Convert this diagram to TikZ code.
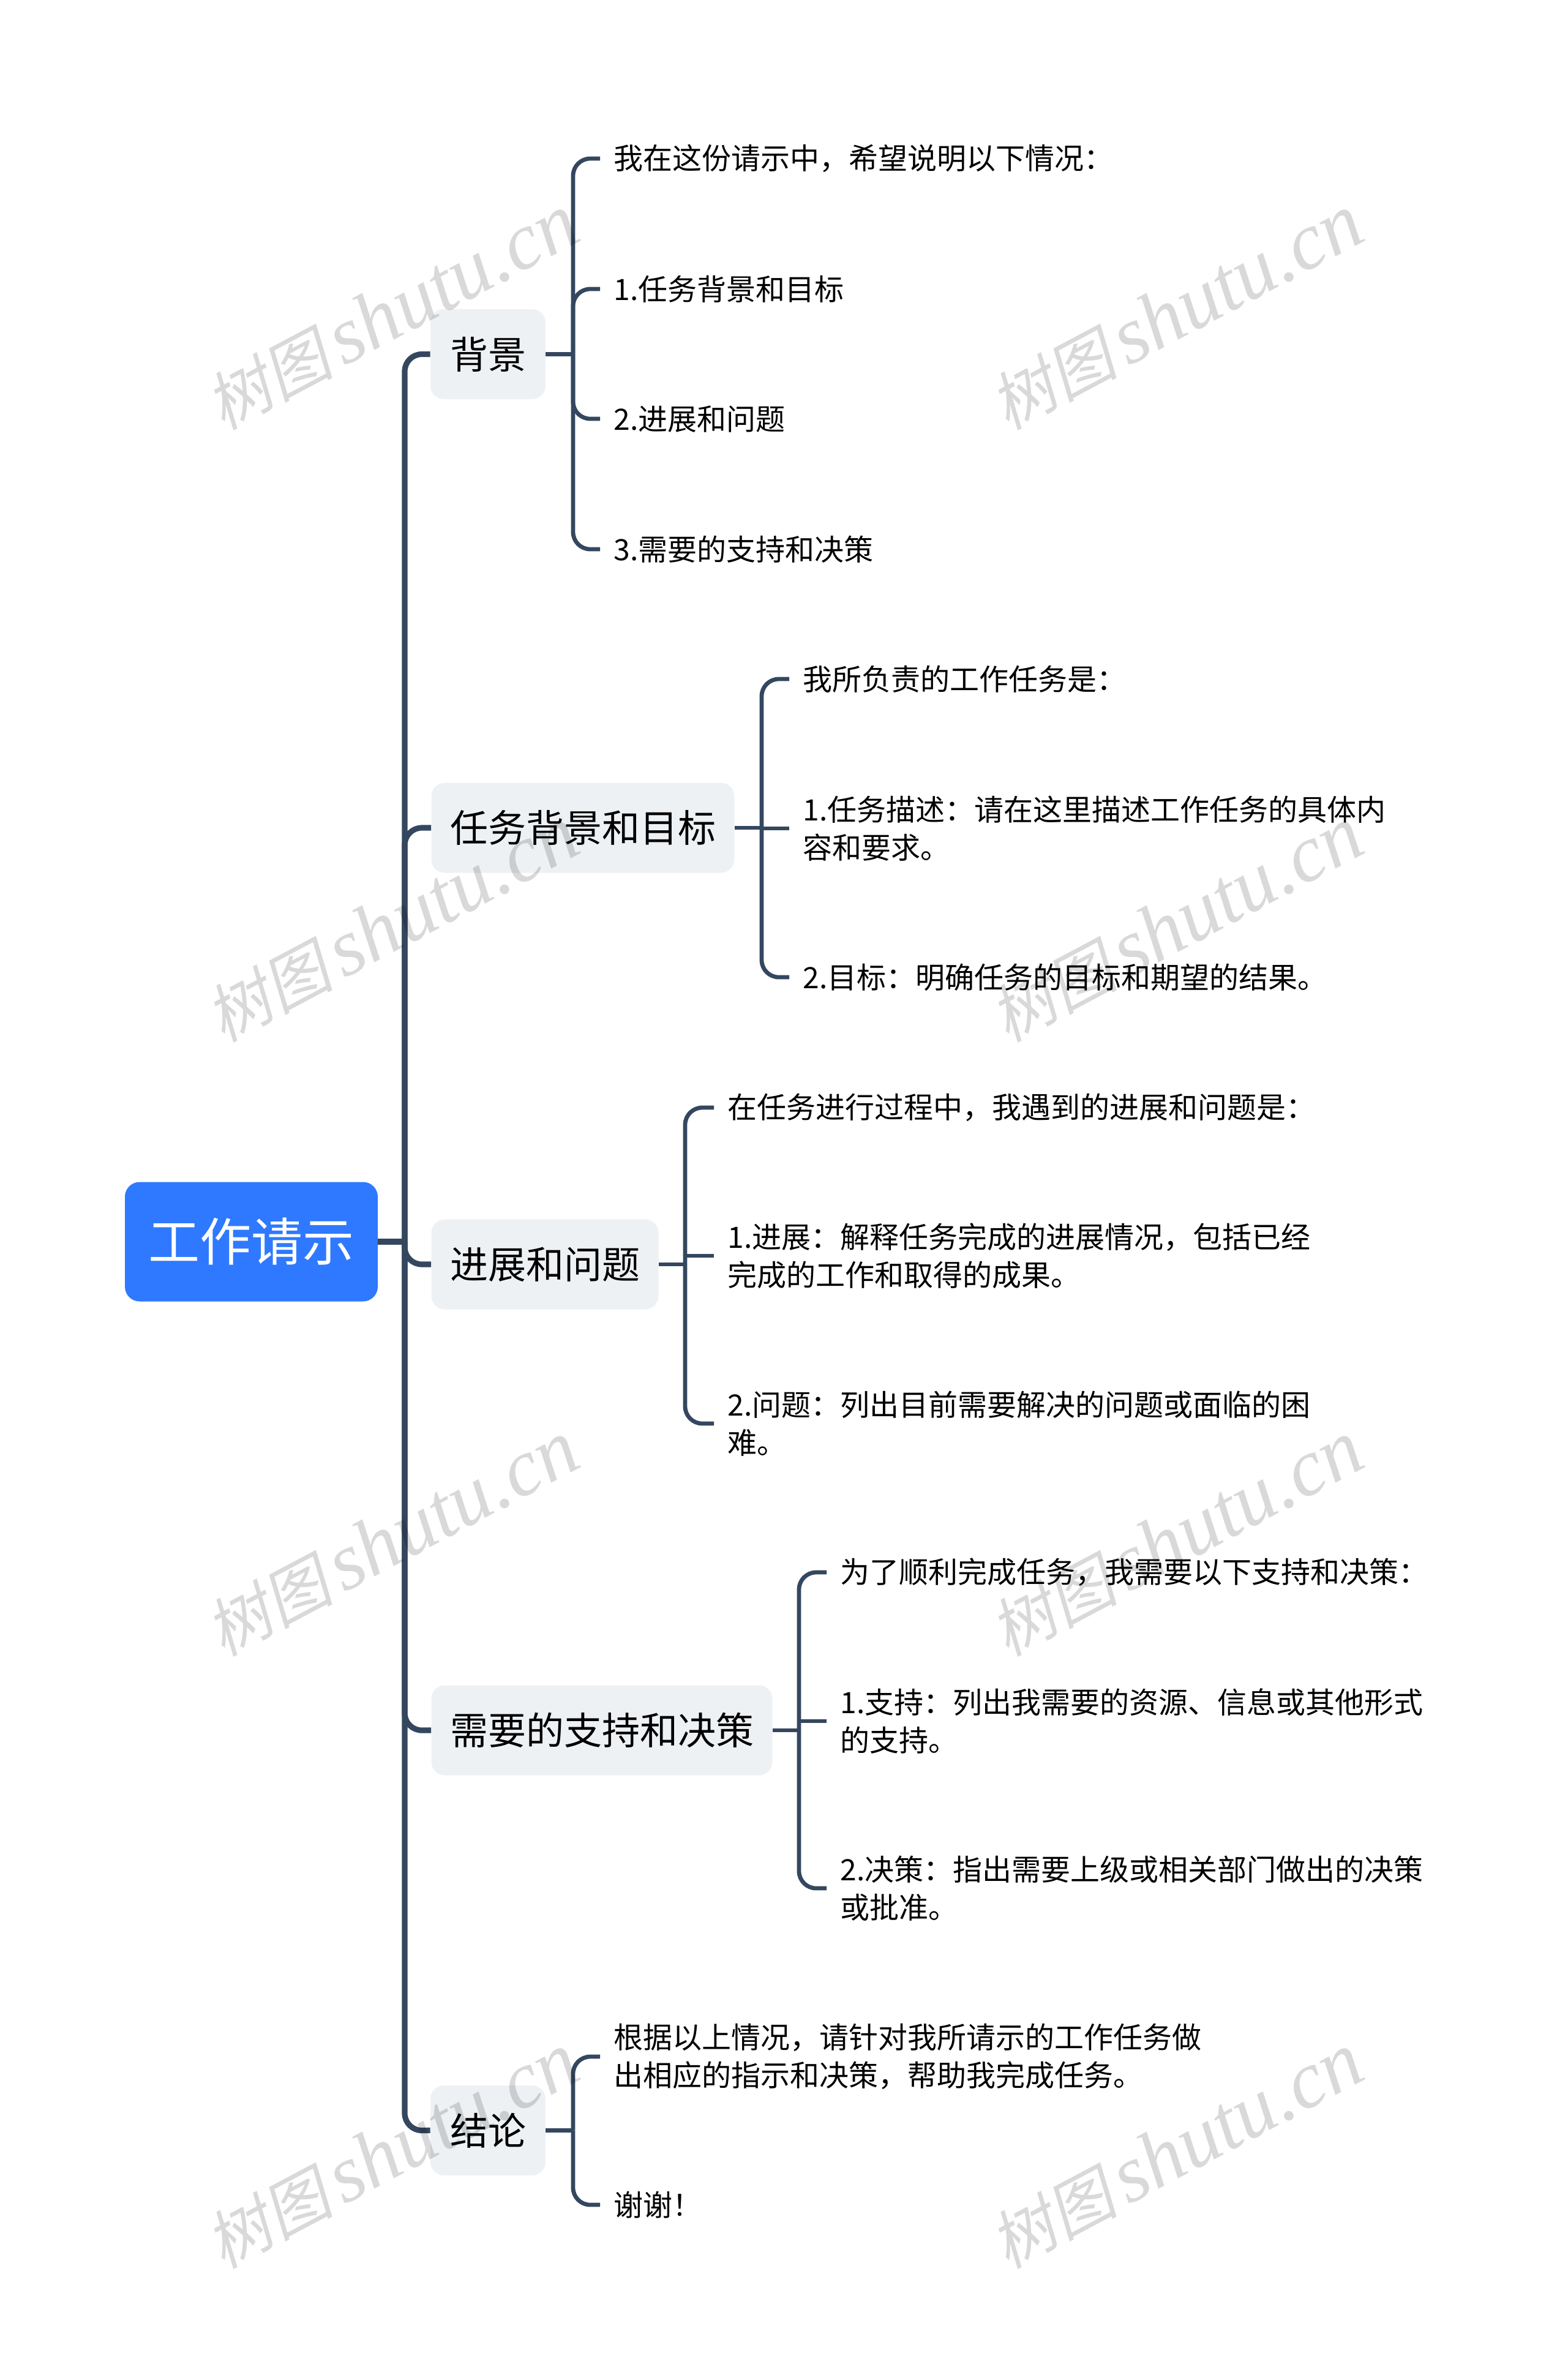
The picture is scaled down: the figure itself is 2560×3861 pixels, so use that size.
\documentclass[tikz,border=0pt]{standalone}
\usepackage{fontspec}
\setmainfont{Noto Sans CJK SC}
\newfontfamily\wmcjk[FakeSlant=0.2]{Noto Sans CJK SC}
\newfontfamily\wmlat{Liberation Serif}[ItalicFont=* Italic]
\definecolor{linecol}{HTML}{34475F}
\definecolor{rootcol}{HTML}{2E79FF}
\definecolor{boxcol}{HTML}{EEF1F4}
\tikzset{
  x=0.5pt,y=-0.5pt,
  rootbox/.style={fill=rootcol,text=white,rounded corners=12pt,font=\fontsize{42}{48}\selectfont,inner sep=0pt,minimum width=206.5pt,minimum height=97.5pt},
  branchbox/.style={fill=boxcol,text=black,rounded corners=11pt,font=\fontsize{31}{38}\selectfont,inner sep=0pt,minimum height=73.5pt},
  leaf/.style={anchor=west,align=left,inner ysep=0pt,inner xsep=11pt,font=\fontsize{24}{31}\selectfont,text=black},
  mainline/.style={draw=linecol,line width=4.6pt,rounded corners=14pt},
  subline/.style={draw=linecol,line width=3.4pt,rounded corners=14pt},
  wm/.style={rotate=28,text=black,opacity=0.15,inner sep=0pt},
}
\newcommand{\wmtext}{{\wmcjk\fontsize{52}{58}\selectfont 树图}\hspace{8pt}{\wmlat\itshape\fontsize{66}{68}\selectfont shutu.cn}}
\begin{document}
\begin{tikzpicture}
\path[fill=white,use as bounding box] (0,0) rectangle (2560,3861);

% nodes
\node[rootbox] (root) at (410.5,2028) {工作请示};
\node[branchbox,minimum width=94pt] (b1) at (797,578.5) {背景};
\node[branchbox,minimum width=247.5pt] (b2) at (952,1352) {任务背景和目标};
\node[branchbox,minimum width=185.5pt] (b3) at (890,2065) {进展和问题};
\node[branchbox,minimum width=278.5pt] (b4) at (983,2826) {需要的支持和决策};
\node[branchbox,minimum width=94pt] (b5) at (797,3479.5) {结论};

\node[leaf] (l11) at (980,259) {我在这份请示中，希望说明以下情况：};
\node[leaf] (l12) at (980,472) {1.任务背景和目标};
\node[leaf] (l13) at (980,684) {2.进展和问题};
\node[leaf] (l14) at (980,897) {3.需要的支持和决策};

\node[leaf] (l21) at (1289,1109) {我所负责的工作任务是：};
\node[leaf] (l22) at (1289,1353) {1.任务描述：请在这里描述工作任务的具体内\\容和要求。};
\node[leaf] (l23) at (1289,1596) {2.目标：明确任务的目标和期望的结果。};

\node[leaf] (l31) at (1166,1809) {在任务进行过程中，我遇到的进展和问题是：};
\node[leaf] (l32) at (1166,2051) {1.进展：解释任务完成的进展情况，包括已经\\完成的工作和取得的成果。};
\node[leaf] (l33) at (1166,2325) {2.问题：列出目前需要解决的问题或面临的困\\难。};

\node[leaf] (l41) at (1350,2568) {为了顺利完成任务，我需要以下支持和决策：};
\node[leaf] (l42) at (1350,2811) {1.支持：列出我需要的资源、信息或其他形式\\的支持。};
\node[leaf] (l43) at (1350,3084) {2.决策：指出需要上级或相关部门做出的决策\\或批准。};

\node[leaf] (l51) at (980,3359) {根据以上情况，请针对我所请示的工作任务做\\出相应的指示和决策，帮助我完成任务。};
\node[leaf] (l52) at (980,3601) {谢谢！};

% trunk junctions
\coordinate (tr) at (661,2028);
\coordinate (s1) at (936,578.5);
\coordinate (s2) at (1244,1352);
\coordinate (s3) at (1119,2065);
\coordinate (s4) at (1305,2826);
\coordinate (s5) at (936,3479.5);

% main connectors
\draw[mainline] (root.east) -- (tr);
\draw[mainline] (tr) |- (b1.west);
\draw[mainline] (tr) |- (b2.west);
\draw[mainline] (tr) |- (b3.west);
\draw[mainline] (tr) |- (b4.west);
\draw[mainline] (tr) |- (b5.west);

% sub connectors
\draw[subline] (b1.east) -- (s1);
\draw[subline] (s1) |- (l11.west);
\draw[subline] (s1) |- (l12.west);
\draw[subline] (s1) |- (l13.west);
\draw[subline] (s1) |- (l14.west);

\draw[subline] (b2.east) -- (s2);
\draw[subline] (s2) |- (l21.west);
\draw[subline] (s2 |- l22.west) -- (l22.west);
\draw[subline] (s2) |- (l23.west);

\draw[subline] (b3.east) -- (s3);
\draw[subline] (s3) |- (l31.west);
\draw[subline] (s3 |- l32.west) -- (l32.west);
\draw[subline] (s3) |- (l33.west);

\draw[subline] (b4.east) -- (s4);
\draw[subline] (s4) |- (l41.west);
\draw[subline] (s4 |- l42.west) -- (l42.west);
\draw[subline] (s4) |- (l43.west);

\draw[subline] (b5.east) -- (s5);
\draw[subline] (s5) |- (l51.west);
\draw[subline] (s5) |- (l52.west);

% watermarks
\foreach \wx in {640,1921}
  \foreach \wy in {510,1510,2513,3513}
    \node[wm] at (\wx,\wy) {\wmtext};
\end{tikzpicture}
\end{document}
